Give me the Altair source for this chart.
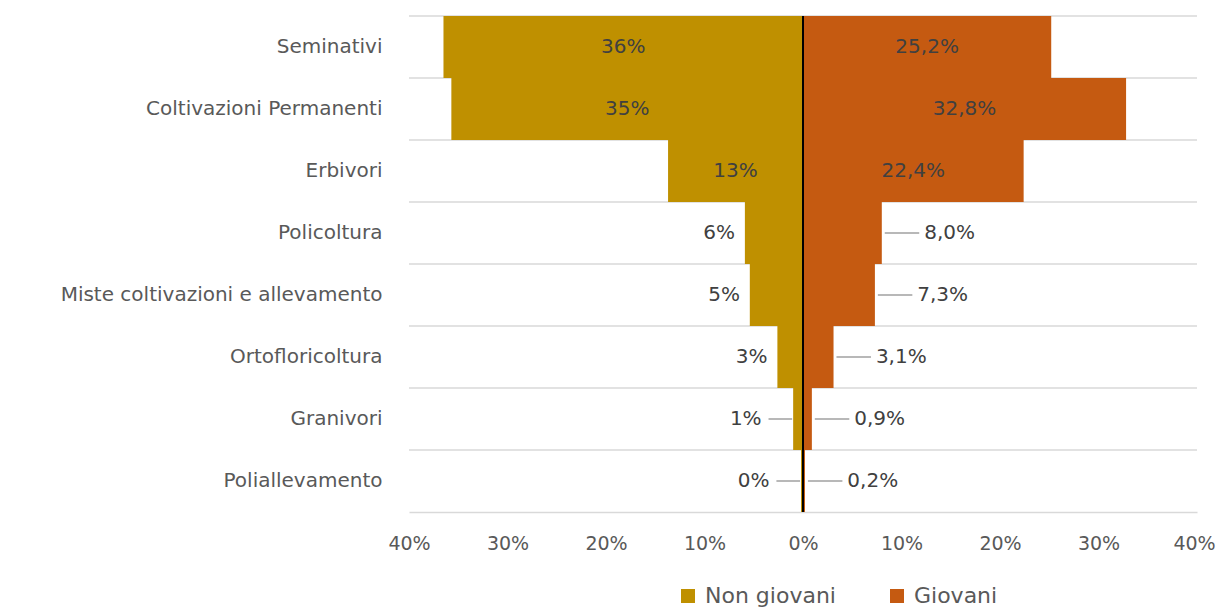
import altair as alt
import pandas as pd

categories = ["Seminativi", "Coltivazioni Permanenti ", "Erbivori", "Policoltura",
              "Miste coltivazioni e allevamento", "Ortofloricoltura", "Granivori",
              "Poliallevamento"]
non_giovani = [36.5, 35.7, 13.7, 5.9, 5.4, 2.6, 1.0, 0.2]
giovani = [25.2, 32.8, 22.4, 8.0, 7.3, 3.1, 0.9, 0.2]
non_giovani_labels = ["36%", "35%", "13%", "6%", "5%", "3%", "1%", "0%"]
giovani_labels = ["25,2%", "32,8%", "22,4%", "8,0%", "7,3%", "3,1%", "0,9%", "0,2%"]
groups = ["Non giovani", "Giovani"]
colors = ["#BF9000", "#C55A11"]
x_ticks = [-40, -30, -20, -10, 0, 10, 20, 30, 40]

FONT = "DejaVu Sans"
TXT = "#404040"
AX = "#595959"
FS = 20

bars, labels, leaders = [], [], []
for c, v, lab in zip(categories, non_giovani, non_giovani_labels):
    bars.append({"cat": c, "group": groups[0], "value": -v})
    if v >= 10:
        labels.append({"cat": c, "lx": -v / 2, "label": lab, "pos": "center"})
    elif v >= 2:
        labels.append({"cat": c, "lx": -(v + 1.0), "label": lab, "pos": "right"})
    else:
        labels.append({"cat": c, "lx": -(v + 3.2), "label": lab, "pos": "right"})
        leaders.append({"cat": c, "a": -(v + 0.1), "b": -(v + 2.5)})
for c, v, lab in zip(categories, giovani, giovani_labels):
    bars.append({"cat": c, "group": groups[1], "value": v})
    if v >= 10:
        labels.append({"cat": c, "lx": v / 2, "label": lab, "pos": "center"})
    else:
        labels.append({"cat": c, "lx": v + 4.3, "label": lab, "pos": "left"})
        leaders.append({"cat": c, "a": v + 0.3, "b": v + 3.8})

bars_df = pd.DataFrame(bars)
labels_df = pd.DataFrame(labels)
leaders_df = pd.DataFrame(leaders)
cats_df = pd.DataFrame({"cat": categories})

y_enc = alt.Y("cat:N", sort=categories,
              scale=alt.Scale(paddingInner=0, paddingOuter=0),
              axis=alt.Axis(title=None, ticks=False, domain=False, grid=False,
                            labelPadding=27, labelFontSize=FS, labelColor=AX,
                            labelFont=FONT, labelLimit=600))
x_scale = alt.Scale(domain=[-40, 40], nice=False)
x_axis = alt.Axis(title=None, values=x_ticks, labelExpr="abs(datum.value) + '%'",
                  grid=False, ticks=False, domainColor="#d9d9d9", domainWidth=1.5,
                  labelPadding=22, labelFontSize=19, labelColor=AX, labelFont=FONT,
                  labelFlush=False, labelOverlap=False,
                  labelOffset={"condition": {"test": "datum.value == 40", "value": -3},
                               "value": 0})

grid = alt.Chart(cats_df).mark_rule(color="#d9d9d9", strokeWidth=1.5).encode(
    y=alt.Y("cat:N", sort=categories, bandPosition=0)
)

bar = alt.Chart(bars_df).mark_bar().encode(
    x=alt.X("value:Q", scale=x_scale, axis=x_axis, stack=None),
    y=y_enc,
    color=alt.Color("group:N", scale=alt.Scale(domain=groups, range=colors),
                    legend=alt.Legend(title=None, orient="none", legendX=268, legendY=569,
                                      direction="horizontal", symbolType="square",
                                      symbolSize=196, symbolStrokeWidth=0,
                                      labelFontSize=22, labelColor=AX, labelFont=FONT,
                                      labelOffset=6, columnPadding=50, padding=0)),
)

zero = alt.Chart(cats_df).mark_rule(color="black", strokeWidth=2).encode(x=alt.datum(0))

lead = alt.Chart(leaders_df).mark_rule(color="#a0a0a0", strokeWidth=1.5).encode(
    x="a:Q", x2="b:Q", y=alt.Y("cat:N", sort=categories)
)

def text_layer(pos, align):
    return alt.Chart(labels_df).transform_filter(
        alt.datum.pos == pos
    ).mark_text(align=align, baseline="middle", fontSize=FS, font=FONT, color=TXT).encode(
        x="lx:Q", y=alt.Y("cat:N", sort=categories), text="label:N"
    )

chart = alt.layer(
    grid, bar, zero, lead,
    text_layer("center", "center"), text_layer("left", "left"), text_layer("right", "right")
).properties(
    width=788, height=496,
    autosize=alt.AutoSizeParams(type="none"),
    padding={"left": 401, "top": 8, "right": 19, "bottom": 99},
).configure_view(stroke=None)

chart.save("out.html", embed_options={"renderer": "svg", "actions": False})
